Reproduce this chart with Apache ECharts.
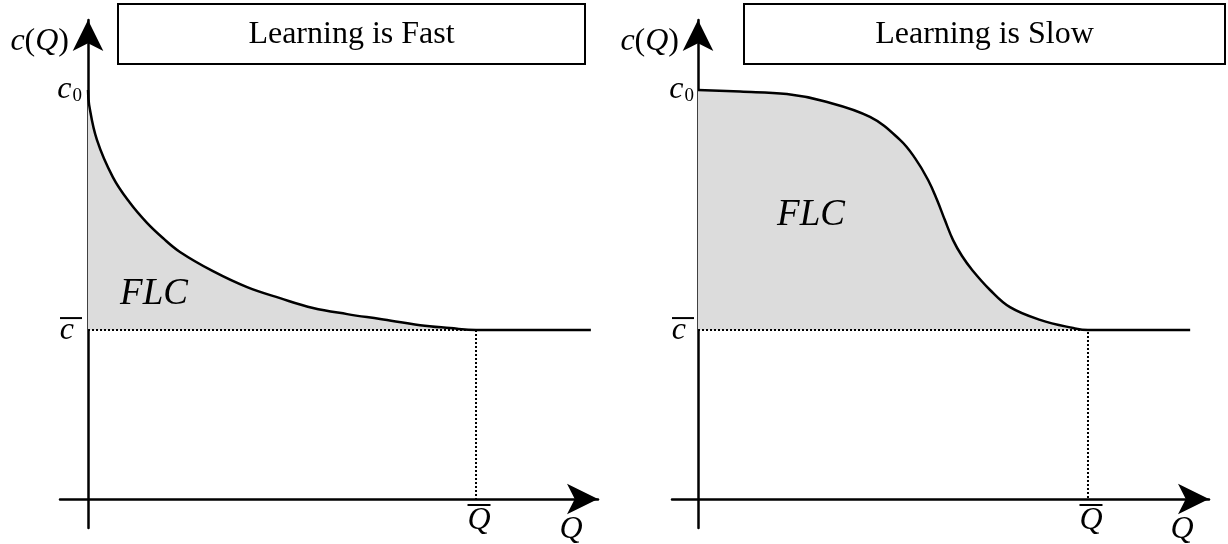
<!DOCTYPE html>
<html>
<head>
<meta charset="utf-8">
<title>Learning curves</title>
<script src="https://cdn.jsdelivr.net/npm/echarts@6/dist/echarts.min.js"></script>
<style>
    html, body { margin: 0; padding: 0; background: #fff; }
    #main { width: 1228px; height: 544px; }
</style>
</head>
<body>
<div id="main"></div>
<script>
// 数据
var c0 = 10;
var cBar = 4.13;
var qBar = 10;

// Learning is Fast
var fastQ = [0, 0.03, 0.23, 0.64, 1.08, 1.52, 1.93, 2.37, 3.22, 4.10, 4.95, 5.80, 6.68, 7.53, 8.56, 9.33, 10, 12.96];
var fastC = [10.0, 9.63, 8.78, 7.87, 7.24, 6.75, 6.38, 6.04, 5.57, 5.18, 4.91, 4.67, 4.52, 4.40, 4.25, 4.18, 4.13, 4.13];

// Learning is Slow
var slowQ = [0, 1.08, 2.28, 3.21, 4.41, 5.18, 5.56, 5.90, 6.13, 6.33, 6.54, 6.77, 7.03, 7.49, 8.0, 8.77, 9.62, 10, 12.62];
var slowC = [10.0, 9.96, 9.90, 9.73, 9.34, 8.78, 8.34, 7.80, 7.31, 6.82, 6.33, 5.94, 5.60, 5.11, 4.69, 4.38, 4.18, 4.13, 4.13];

var titles = ['Learning is Fast', 'Learning is Slow'];

var serif = "'Liberation Serif', 'Times New Roman', serif";

function pairs(xs, ys) {
    var out = [];
    for (var i = 0; i < xs.length; i++) {
        out.push([xs[i], ys[i]]);
    }
    return out;
}

// 标签按 grid 边缘定位, 不跟随 onZero 轴线, 所以 margin 为负
function makeX(idx, min, max) {
    return {
        type: 'value', gridIndex: idx, min: min, max: max,
        name: '{i|Q}', nameLocation: 'end', nameGap: -27,
        nameTextStyle: {
            align: 'center', verticalAlign: 'top', padding: [15, 0, 0, 0],
            rich: { i: { fontFamily: serif, fontStyle: 'italic', fontSize: 32, color: '#000' } }
        },
        axisLine: {
            onZero: true, symbol: ['none', 'arrow'], symbolSize: [23, 31],
            lineStyle: { color: '#000', width: 2.5 }
        },
        axisTick: { show: false },
        splitLine: { show: false },
        axisLabel: {
            customValues: [qBar], margin: -24, padding: [0, 0, 0, 6],
            formatter: function () { return '{bar| }\n{q|Q}'; },
            rich: {
                bar: { width: 23, height: 2, lineHeight: 2, backgroundColor: '#000', fontSize: 2 },
                q: { fontFamily: serif, fontStyle: 'italic', fontSize: 32, lineHeight: 30, color: '#000' }
            }
        }
    };
}

function makeY(idx) {
    return {
        type: 'value', gridIndex: idx, min: -0.709, max: 11.711,
        name: '{i|c}{u|(}{i|Q}{u|)}', nameLocation: 'end', nameGap: -22,
        nameTextStyle: {
            align: 'right', verticalAlign: 'middle', padding: [0, 19, 0, 0],
            rich: {
                i: { fontFamily: serif, fontStyle: 'italic', fontSize: 32, color: '#000' },
                u: { fontFamily: serif, fontSize: 32, color: '#000' }
            }
        },
        axisLine: {
            onZero: true, symbol: ['none', 'arrow'], symbolSize: [23, 31],
            lineStyle: { color: '#000', width: 2.5 }
        },
        axisTick: { show: false },
        splitLine: { show: false },
        axisLabel: {
            customValues: [cBar, c0], margin: -22,
            formatter: function (v) {
                if (v === c0) return '{c|c}{s|0}';
                return '{bar| }\n{cb|c}';
            },
            rich: {
                c: { fontFamily: serif, fontStyle: 'italic', fontSize: 32, lineHeight: 32, color: '#000' },
                s: { fontFamily: serif, fontSize: 19, lineHeight: 10, verticalAlign: 'bottom', padding: [8, 0, 0, 1], color: '#000' },
                bar: { width: 14, height: 2, lineHeight: 2, fontSize: 2, backgroundColor: '#000', padding: [0, 8, 0, 0] },
                cb: { fontFamily: serif, fontStyle: 'italic', fontSize: 32, lineHeight: 24, color: '#000', padding: [0, 8, 0, 0] }
            }
        }
    };
}

function curve(idx, xs, ys) {
    return {
        type: 'line', xAxisIndex: idx, yAxisIndex: idx,
        data: pairs(xs, ys),
        smooth: 0.4,
        symbol: 'none',
        lineStyle: { color: '#000', width: 2.5 },
        areaStyle: { color: '#dcdcdc', opacity: 1, origin: cBar },
        z: 2
    };
}

function guide(idx) {
    return {
        type: 'line', xAxisIndex: idx, yAxisIndex: idx,
        data: [[0, cBar], [qBar, cBar], [qBar, 0]],
        symbol: 'none',
        lineStyle: { color: '#000', width: 2, type: [2, 2] },
        z: 3
    };
}

function titleBox(x, w, txt) {
    return {
        type: 'group',
        children: [{
            type: 'rect', shape: { x: x, y: 4, width: w, height: 60 },
            style: { fill: '#fff', stroke: '#000', lineWidth: 2 }
        }, {
            type: 'text', x: x + w / 2, y: 35,
            style: { text: txt, font: '32px ' + serif, fill: '#000', align: 'center', verticalAlign: 'middle' }
        }]
    };
}

function flc(x, y) {
    return {
        type: 'text', x: x, y: y,
        style: { text: 'FLC', font: 'italic 37px ' + serif, fill: '#000', align: 'center', verticalAlign: 'middle' },
        z: 10
    };
}

var chart = echarts.init(document.getElementById('main'), null, { renderer: 'canvas' });
chart.setOption({
    animation: false,
    backgroundColor: '#fff',
    grid: [
        { left: 60, top: 20, width: 538, height: 508, containLabel: false, outerBoundsMode: 'none' },
        { left: 672, top: 20, width: 537, height: 508, containLabel: false, outerBoundsMode: 'none' }
    ],
    xAxis: [makeX(0, -0.722, 13.144), makeX(1, -0.667, 13.103)],
    yAxis: [makeY(0), makeY(1)],
    series: [
        curve(0, fastQ, fastC), guide(0),
        curve(1, slowQ, slowC), guide(1)
    ],
    graphic: [
        titleBox(118, 467, titles[0]),
        titleBox(744, 481, titles[1]),
        flc(154, 294),
        flc(811, 215)
    ]
});
</script>
</body>
</html>
